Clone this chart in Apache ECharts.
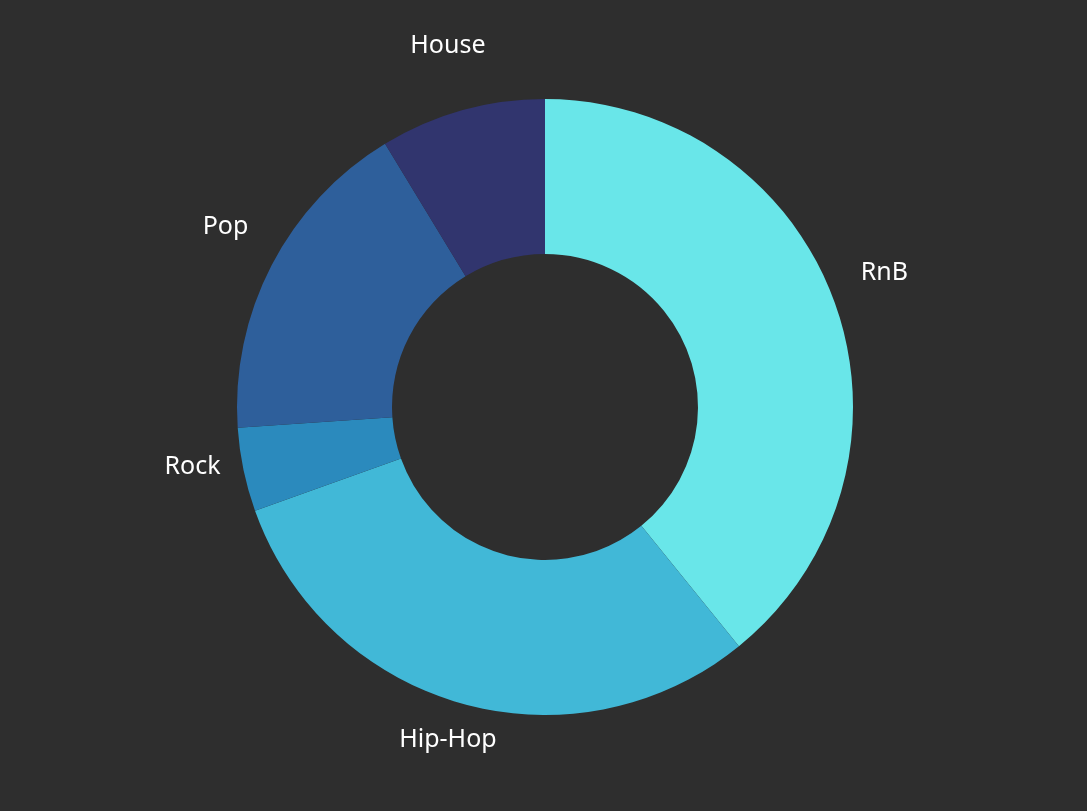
<!DOCTYPE html>
<html>
<head>
<meta charset="utf-8">
<style>html,body{margin:0;padding:0;background:#2e2e2e;}#c{width:1087px;height:811px;}</style>
<script src="https://cdn.jsdelivr.net/npm/echarts@6/dist/echarts.min.js"></script>
</head>
<body>
<div id="c"></div>
<script>
const categories = ['RnB', 'Hip-Hop', 'Rock', 'Pop', 'House'];
const values = [39.2, 30.4, 4.4, 17.4, 8.7];
const colors = ['#69e6e9', '#41b8d7', '#2b8abd', '#2e5f9b', '#31356e'];

const CX = 545, CY = 407, R_IN = 153, R_OUT = 308, R_LABEL = 360, LABEL_DY = -14;
const total = values.reduce((a, b) => a + b, 0);
const midAngles = [];
let acc = 0;
values.forEach(v => { midAngles.push((acc + v / 2) / total * 2 * Math.PI); acc += v; });

const chart = echarts.init(document.getElementById('c'));
chart.setOption({
  backgroundColor: '#2e2e2e',
  animation: false,
  series: [{
    type: 'pie',
    center: [CX, CY],
    radius: [R_IN, R_OUT],
    startAngle: 90,
    clockwise: true,
    data: categories.map((c, i) => ({ name: c, value: values[i], itemStyle: { color: colors[i] } })),
    itemStyle: { borderWidth: 0 },
    label: { show: true, position: 'outside', color: '#ffffff', fontSize: 25, fontFamily: 'Noto Sans' },
    labelLine: { show: false },
    labelLayout: function (p) {
      const a = midAngles[p.dataIndex];
      return {
        x: CX + R_LABEL * Math.sin(a),
        y: CY - R_LABEL * Math.cos(a) + LABEL_DY,
        align: 'center',
        verticalAlign: 'middle'
      };
    }
  }]
});
</script>
</body>
</html>
